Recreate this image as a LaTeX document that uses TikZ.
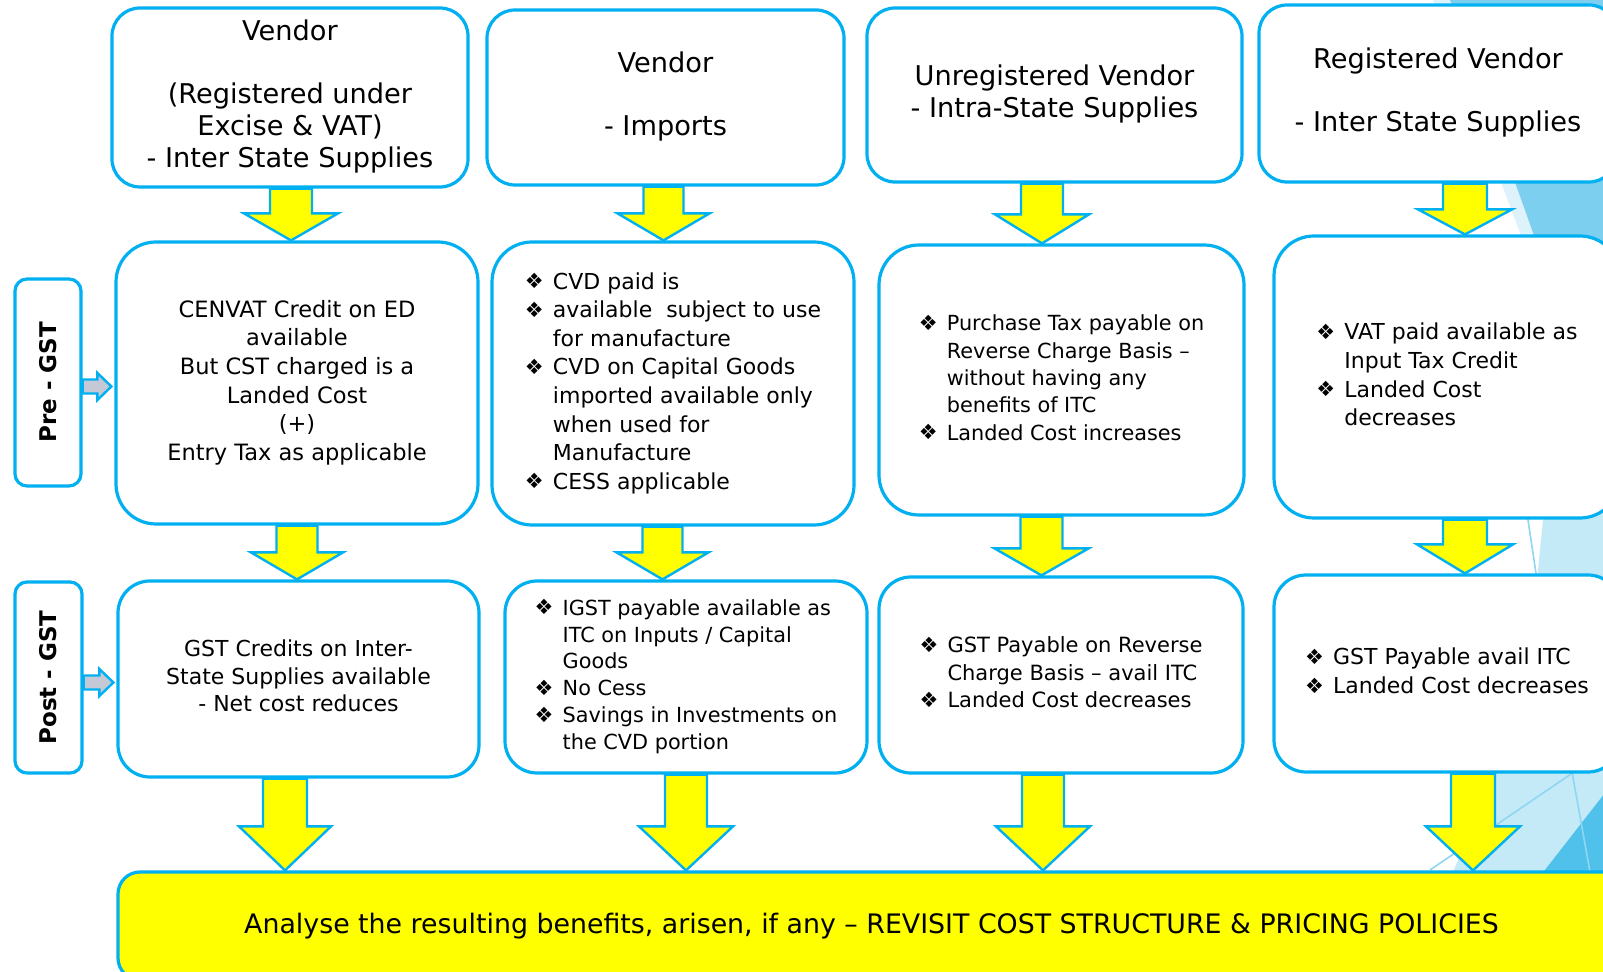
\documentclass[tikz,border=0pt]{standalone}
\usepackage{fontspec}
\setmainfont{DejaVu Sans}
\usetikzlibrary{calc}
\definecolor{bblue}{HTML}{00B0F0}
\definecolor{yel}{HTML}{FFFF00}
\definecolor{facetA}{HTML}{7DCFEF}
\definecolor{facetB}{HTML}{DDF2FB}
\definecolor{facetC}{HTML}{C4EAF8}
\definecolor{facetD}{HTML}{4FC1EA}
\definecolor{facetL}{HTML}{8FD6F2}
\definecolor{sgray}{HTML}{C5C9D6}
\pgfdeclarelayer{facet}
\pgfdeclarelayer{arr}
\pgfsetlayers{facet,arr,main}
\newcommand\bul{\makebox[14pt][l]{\fontsize{10.5}{10.5}\selectfont\raisebox{0.2pt}{❖}}}
\newcommand\yarr[6]{%
\draw[yarrow] let \p1=(#1.south), \p2=(#2.north) in
 ({(#3-#4)*0.5pt},\y1) -- ({(#3-#4)*0.5pt},{\y2+#6*0.5pt}) -- ({(#3-#5)*0.5pt},{\y2+#6*0.5pt})
 -- ({#3*0.5pt},\y2) -- ({(#3+#5)*0.5pt},{\y2+#6*0.5pt}) -- ({(#3+#4)*0.5pt},{\y2+#6*0.5pt})
 -- ({(#3+#4)*0.5pt},\y1) -- cycle;}
\newcommand\sarr[3]{%
\draw[sarrow] let \p1=(#1.east), \p2=(#2.west) in
 (\x1,{\y1-#3*0.5pt+7*0.5pt}) -- ({\x2-17*0.5pt},{\y1-#3*0.5pt+7*0.5pt}) -- ({\x2-17*0.5pt},{\y1-#3*0.5pt+13.5*0.5pt})
 -- ({\x2-3*0.5pt},{\y1-#3*0.5pt}) -- ({\x2-17*0.5pt},{\y1-#3*0.5pt-13.5*0.5pt}) -- ({\x2-17*0.5pt},{\y1-#3*0.5pt-7*0.5pt})
 -- (\x1,{\y1-#3*0.5pt-7*0.5pt}) -- cycle;}
\tikzset{
 box/.style={draw=bblue, line width=1.6pt, fill=white, inner sep=0pt, align=center},
 r1/.style={box, rounded corners=14pt, font=\fontsize{13.6}{15.85}\selectfont},
 r2/.style={box, rounded corners=20pt},
 r3/.style={box, rounded corners=16pt},
 sidebox/.style={box, rounded corners=6pt, font=\fontsize{11.5}{14}\selectfont\bfseries},
 banner/.style={draw=bblue, line width=1.6pt, fill=yel, rounded corners=11pt, inner sep=0pt, font=\fontsize{13.4}{15}\selectfont},
 yarrow/.style={draw=bblue, line width=1.2pt, fill=yel, line join=miter},
 sarrow/.style={draw=bblue, line width=1.2pt, fill=sgray},
}
\begin{document}
\begin{tikzpicture}[x=0.5pt,y=-0.5pt]
\useasboundingbox (0,0) rectangle (1603,972);
\begin{pgfonlayer}{facet}
\begin{scope}
\clip (0,0) rectangle (1603,972);
\fill[white] (0,0) rectangle (1603,972);
\fill[facetB] (1433,0) -- (1450,0) -- (1557,300) -- (1545,300) -- cycle;
\fill[facetA] (1450,0) -- (1640,0) -- (1640,300) -- (1557,300) -- cycle;
\fill[facetC] (1545,500) -- (1640,500) -- (1640,600) -- (1535,600) -- cycle;
\draw[facetL, line width=0.8pt] (1525,500) -- (1540,600);
\fill[facetC] (1500,760) -- (1640,760) -- (1640,884) -- (1448,884) -- cycle;
\fill[facetD] (1534,884) -- (1640,748) -- (1640,884) -- cycle;
\draw[facetL, line width=0.8pt] (1430,870) -- (1640,727);
\draw[facetL, line width=0.8pt] (1572,772) -- (1590,872);
\end{scope}
\end{pgfonlayer}

% row 1
\node[r1, minimum width=178pt, minimum height=89.5pt] (a1) at (290,97.5)
 {\begin{tabular}{@{}c@{}}Vendor\\ \\(Registered under\\Excise \& VAT)\\- Inter State Supplies\end{tabular}};
\node[r1, minimum width=178.5pt, minimum height=87.5pt] (b1) at (665.5,97.5)
 {\begin{tabular}{@{}c@{}}Vendor\\ \\- Imports\end{tabular}};
\node[r1, minimum width=187.5pt, minimum height=87pt] (c1) at (1054.5,95)
 {\begin{tabular}{@{}c@{}}Unregistered Vendor\\- Intra-State Supplies\end{tabular}};
\node[r1, minimum width=179pt, minimum height=88.5pt] (d1) at (1438,93.5)
 {\begin{tabular}{@{}c@{}}Registered Vendor\\ \\- Inter State Supplies\end{tabular}};

% row 2
\node[r2, minimum width=181pt, minimum height=141pt, font=\fontsize{11.25}{14.3}\selectfont] (a2) at (297,383)
 {\begin{tabular}{@{}c@{}}CENVAT Credit on ED\\available\\But CST charged is a\\Landed Cost\\(+)\\Entry Tax as applicable\end{tabular}};
\node[r2, minimum width=181pt, minimum height=141.5pt, font=\fontsize{11}{14.3}\selectfont] (b2) at (673,383.5)
 {\begin{tabular}{@{}l@{}l@{}}\bul & CVD paid is\\ \bul & available\ \ subject to use\\ & for manufacture\\ \bul & CVD on Capital Goods\\ & imported available only\\ & when used for\\ & Manufacture\\ \bul & CESS applicable\end{tabular}};
\node[r2, minimum width=182.5pt, minimum height=135pt, font=\fontsize{10.4}{13.65}\selectfont] (c2) at (1061.5,380)
 {\begin{tabular}{@{}l@{}l@{}}\bul & Purchase Tax payable on\\ & Reverse Charge Basis –\\ & without having any\\ & benefits of ITC\\ \bul & Landed Cost increases\end{tabular}};
\node[r2, minimum width=173pt, minimum height=141pt, font=\fontsize{11}{14.3}\selectfont] (d2) at (1447,377)
 {\begin{tabular}{@{}l@{}l@{}}\bul & VAT paid available as\\ & Input Tax Credit\\ \bul & Landed Cost\\ & decreases\end{tabular}};

% row 3
\node[r3, minimum width=180.5pt, minimum height=98pt, font=\fontsize{11}{13.75}\selectfont] (a3) at (298.5,679)
 {\begin{tabular}{@{}c@{}}GST Credits on Inter-\\State Supplies available\\- Net cost reduces\end{tabular}};
\node[r3, minimum width=181pt, minimum height=96pt, font=\fontsize{10.4}{13.4}\selectfont] (b3) at (686,677)
 {\begin{tabular}{@{}l@{}l@{}}\bul & IGST payable available as\\ & ITC on Inputs / Capital\\ & Goods\\ \bul & No Cess\\ \bul & Savings in Investments on\\ & the CVD portion\end{tabular}};
\node[r3, minimum width=182pt, minimum height=98pt, font=\fontsize{10.5}{13.75}\selectfont] (c3) at (1061,675)
 {\begin{tabular}{@{}l@{}l@{}}\bul & GST Payable on Reverse\\ & Charge Basis – avail ITC\\ \bul & Landed Cost decreases\end{tabular}};
\node[r3, minimum width=173pt, minimum height=98.5pt, font=\fontsize{11}{14.5}\selectfont] (d3) at (1447,673.5)
 {\begin{tabular}{@{}l@{}l@{}}\bul & GST Payable avail ITC\\ \bul & Landed Cost decreases\end{tabular}};

% side labels
\node[sidebox, minimum width=33pt, minimum height=103.5pt] (pre) at (48,382.5) {\rotatebox{90}{Pre - GST}};
\node[sidebox, minimum width=33.5pt, minimum height=95.5pt] (post) at (48.5,677.5) {\rotatebox{90}{Post - GST}};

% banner
\node[banner, minimum width=753.5pt, minimum height=54pt] (ban) at (871.5,926)
 {Analyse the resulting benefits, arisen, if any – REVISIT COST STRUCTURE \& PRICING POLICIES};

\begin{pgfonlayer}{arr}
\yarr{a1}{a2}{291}{21}{47}{27}
\yarr{b1}{b2}{663.5}{20}{46}{27}
\yarr{c1}{c2}{1042}{21}{47}{29}
\yarr{d1}{d2}{1465}{22}{47}{25}
\yarr{a2}{a3}{297}{20.5}{46}{27}
\yarr{b2}{b3}{662.5}{20}{46}{27}
\yarr{c2}{c3}{1041.5}{21}{47}{27}
\yarr{d2}{d3}{1465}{22}{48}{29}
\yarr{a3}{ban}{285}{22}{46}{44}
\yarr{b3}{ban}{686}{21}{47}{44}
\yarr{c3}{ban}{1043}{21}{47}{44}
\yarr{d3}{ban}{1473}{22}{47}{44}
\sarr{pre}{a2}{4}
\sarr{post}{a3}{5}
\end{pgfonlayer}
\end{tikzpicture}
\end{document}
